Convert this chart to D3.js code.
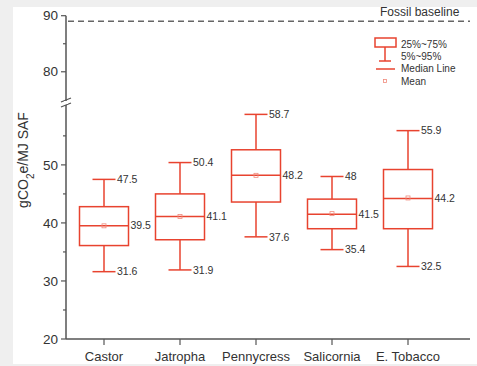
<!DOCTYPE html>
<html>
<head>
<meta charset="utf-8">
<title>SAF box plot</title>
<script src="https://cdn.jsdelivr.net/npm/d3@7"></script>
<style>
  body { margin: 0; background: #efefef; }
  text { font-family: "Liberation Sans", Arial, sans-serif; fill: #333; }
</style>
</head>
<body>
<svg width="477" height="366"></svg>
<script>
// data
var categories = ["Castor", "Jatropha", "Pennycress", "Salicornia", "E. Tobacco"];
var p5     = [31.6, 31.9, 37.6, 35.4, 32.5];
var q1     = [36.1, 37.1, 43.6, 39.0, 39.0];
var median = [39.5, 41.1, 48.2, 41.5, 44.2];
var q3     = [42.8, 45.0, 52.6, 44.1, 49.2];
var p95    = [47.5, 50.4, 58.7, 48, 55.9];
var mean   = [39.5, 41.1, 48.2, 41.6, 44.3];
var fossil = 89;
var lowTicks = [20, 30, 40, 50];
var lowMinor = [25, 35, 45, 55];
var highTicks = [80, 90];
var highMinor = [85];

var svg = d3.select("svg");
var red = "#e8432f", axisCol = "#555";

svg.append("rect").attr("x", 13).attr("y", 7).attr("width", 464).attr("height", 357).attr("fill", "#fff");

var x = d3.scalePoint().domain(categories).range([104, 408]);
var yLow = d3.scaleLinear().domain([20, 59.8]).range([339, 108]);
var yHigh = d3.scaleLinear().domain([75.5, 90]).range([97, 15.7]);
var x0 = 66, x1 = 470;

// y axis segments
var g = svg.append("g");
g.append("line").attr("x1", x0).attr("x2", x0).attr("y1", yLow(20)).attr("y2", 105).attr("stroke", axisCol).attr("stroke-width", 1.5);
g.append("line").attr("x1", x0).attr("x2", x0).attr("y1", 101).attr("y2", yHigh(90)).attr("stroke", axisCol).attr("stroke-width", 1.5);
// break marks
[100, 105].forEach(function (yy) {
  g.append("line").attr("x1", x0 - 5).attr("x2", x0 + 5).attr("y1", yy + 2).attr("y2", yy - 2)
    .attr("stroke", axisCol).attr("stroke-width", 1.2);
});
g.append("rect").attr("x", x0 - 2).attr("y", 101).attr("width", 4).attr("height", 3).attr("fill", "#fff");

function yTicks(scale, major, minor) {
  major.forEach(function (v) {
    g.append("line").attr("x1", x0 - 5).attr("x2", x0).attr("y1", scale(v)).attr("y2", scale(v)).attr("stroke", axisCol).attr("stroke-width", 1.2);
    g.append("text").attr("x", x0 - 8).attr("y", scale(v)).attr("dy", "0.35em").attr("text-anchor", "end")
      .attr("font-size", 13.5).text(v);
  });
  minor.forEach(function (v) {
    g.append("line").attr("x1", x0 - 3).attr("x2", x0).attr("y1", scale(v)).attr("y2", scale(v)).attr("stroke", axisCol).attr("stroke-width", 1.2);
  });
}
yTicks(yLow, lowTicks, lowMinor);
yTicks(yHigh, highTicks, highMinor);

// x axis
g.append("line").attr("x1", x0).attr("x2", x1).attr("y1", 339).attr("y2", 339).attr("stroke", axisCol).attr("stroke-width", 1.5);
categories.forEach(function (c) {
  g.append("line").attr("x1", x(c)).attr("x2", x(c)).attr("y1", 339).attr("y2", 345).attr("stroke", axisCol).attr("stroke-width", 1.2);
  g.append("text").attr("x", x(c)).attr("y", 361).attr("text-anchor", "middle").attr("font-size", 13).text(c);
});

// y label
svg.append("text").attr("transform", "translate(28,160) rotate(-90)").attr("text-anchor", "middle")
  .attr("font-size", 14).html('gCO<tspan baseline-shift="sub" font-size="10">2</tspan>e/MJ SAF');

// fossil baseline
svg.append("line").attr("x1", x0 + 2).attr("x2", x1).attr("y1", yHigh(fossil)).attr("y2", yHigh(fossil))
  .attr("stroke", "#666").attr("stroke-width", 1.5).attr("stroke-dasharray", "6,4");
svg.append("text").attr("x", 380).attr("y", 16).attr("font-size", 12).text("Fossil baseline");

// boxes
var bw = 24.5, cw = 11.5;
var boxes = svg.append("g").attr("stroke", red).attr("stroke-width", 1.5).attr("fill", "none");
categories.forEach(function (c, i) {
  var cx = x(c);
  boxes.append("line").attr("x1", cx).attr("x2", cx).attr("y1", yLow(p95[i])).attr("y2", yLow(q3[i]));
  boxes.append("line").attr("x1", cx).attr("x2", cx).attr("y1", yLow(q1[i])).attr("y2", yLow(p5[i]));
  boxes.append("line").attr("x1", cx - cw).attr("x2", cx + cw).attr("y1", yLow(p95[i])).attr("y2", yLow(p95[i]));
  boxes.append("line").attr("x1", cx - cw).attr("x2", cx + cw).attr("y1", yLow(p5[i])).attr("y2", yLow(p5[i]));
  boxes.append("rect").attr("x", cx - bw).attr("y", yLow(q3[i])).attr("width", bw * 2).attr("height", yLow(q1[i]) - yLow(q3[i]));
  boxes.append("line").attr("x1", cx - bw).attr("x2", cx + bw).attr("y1", yLow(median[i])).attr("y2", yLow(median[i]));
  boxes.append("rect").attr("x", cx - 2).attr("y", yLow(mean[i]) - 2).attr("width", 4).attr("height", 4)
    .attr("stroke-width", 0.8).attr("stroke", "#f08a7c");

  svg.append("text").attr("x", cx + cw + 1.5).attr("y", yLow(p95[i])).attr("dy", "0.35em").attr("font-size", 10.5).text(p95[i]);
  svg.append("text").attr("x", cx + cw + 1.5).attr("y", yLow(p5[i])).attr("dy", "0.35em").attr("font-size", 10.5).text(p5[i]);
  svg.append("text").attr("x", cx + bw + 2).attr("y", yLow(median[i])).attr("dy", "0.35em").attr("font-size", 10.5).text(median[i]);
});

// legend
var lg = svg.append("g");
var lx = 385;
lg.append("rect").attr("x", 375).attr("y", 38).attr("width", 21).attr("height", 9).attr("fill", "none").attr("stroke", red).attr("stroke-width", 1.5);
lg.append("line").attr("x1", lx).attr("x2", lx).attr("y1", 47).attr("y2", 61).attr("stroke", red).attr("stroke-width", 1.5);
lg.append("line").attr("x1", 379).attr("x2", 391).attr("y1", 61).attr("y2", 61).attr("stroke", red).attr("stroke-width", 1.5);
lg.append("line").attr("x1", 376).attr("x2", 395).attr("y1", 69).attr("y2", 69).attr("stroke", red).attr("stroke-width", 1.5);
lg.append("rect").attr("x", lx - 1.5).attr("y", 79.5).attr("width", 3).attr("height", 3).attr("fill", "none").attr("stroke", "#f08a7c").attr("stroke-width", 0.8);
[["25%~75%", 44], ["5%~95%", 56], ["Median Line", 68.5], ["Mean", 81]].forEach(function (d) {
  lg.append("text").attr("x", 401).attr("y", d[1]).attr("dy", "0.35em").attr("font-size", 10).text(d[0]);
});
</script>
</body>
</html>
